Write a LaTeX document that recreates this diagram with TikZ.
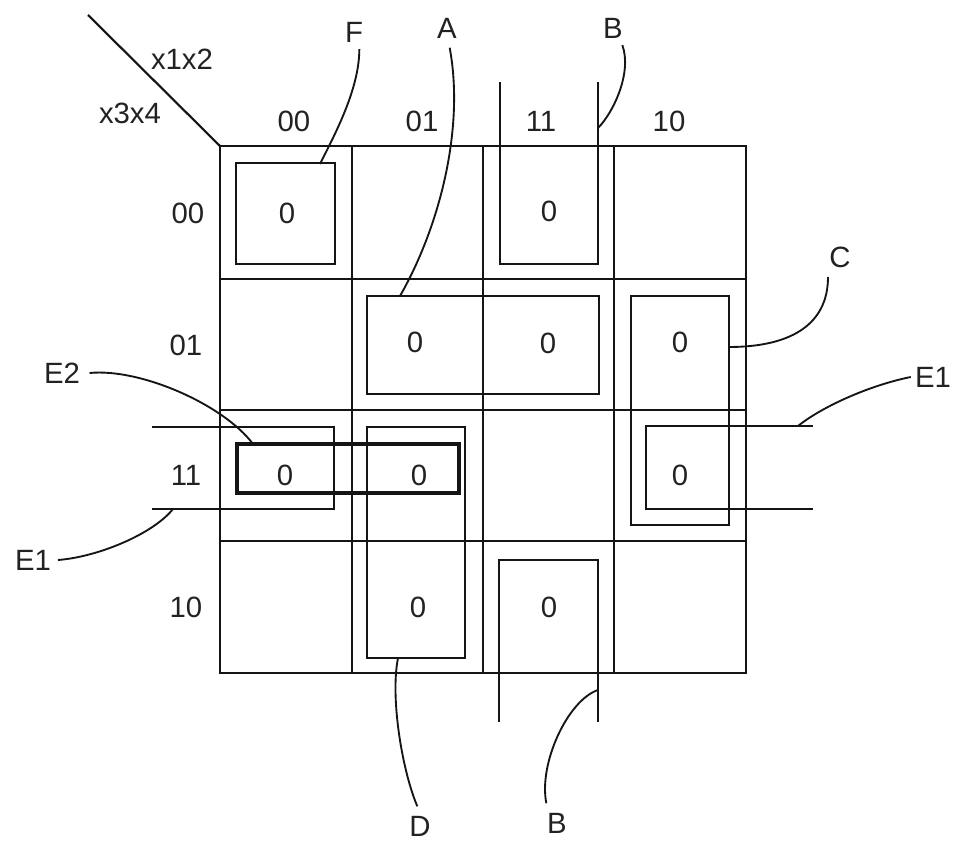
\documentclass[tikz,border=0pt]{standalone}
\usepackage{fontspec}
\setmainfont{Liberation Sans}
\usetikzlibrary{calc}
\definecolor{lineInk}{HTML}{151515}
\definecolor{textInk}{HTML}{222222}

\begin{document}
\begin{tikzpicture}[
  x=0.75pt, y=-0.75pt,
  font=\fontsize{22}{26}\selectfont,
  gridLine/.style={draw=lineInk, line width=1.6pt},
  loopBox/.style={draw=lineInk, line width=1.6pt},
  loopBoxHeavy/.style={draw=lineInk, line width=3pt},
  leader/.style={draw=lineInk, line width=1.4pt},
  cellVal/.style={text=textInk, inner sep=2pt},
  headLabel/.style={text=textInk, inner sep=2pt},
  loopLabel/.style={text=textInk, inner sep=3pt}
]
\useasboundingbox (0,0) rectangle (953,842);

% ===== Map grid =======================================================
\draw[gridLine] (220,146) rectangle (746,673);
\foreach \gx in {352,483,614}
  \draw[gridLine] (\gx,146) -- (\gx,673);
\foreach \gy in {279,410,541}
  \draw[gridLine] (220,\gy) -- (746,\gy);
\draw[gridLine] (88,15) -- (220,146);

% ===== Variable headings ==============================================
\node[headLabel] (varCol) at (182,59)  {x1x2};
\node[headLabel] (varRow) at (130,113) {x3x4};

\node[headLabel] (col00) at (294,121) {00};
\node[headLabel] (col01) at (422,121) {01};
\node[headLabel] (col11) at (541,121) {11};
\node[headLabel] (col10) at (669,121) {10};

\node[headLabel] (row00) at (188,213) {00};
\node[headLabel] (row01) at (186,345) {01};
\node[headLabel] (row11) at (186,475) {11};
\node[headLabel] (row10) at (186,607) {10};

% ===== Cell values =====================================================
\node[cellVal] (m0)  at (287,213) {0};
\node[cellVal] (m12) at (549,211) {0};
\node[cellVal] (m5)  at (415,342) {0};
\node[cellVal] (m13) at (548,343) {0};
\node[cellVal] (m9)  at (680,342) {0};
\node[cellVal] (m3)  at (285,475) {0};
\node[cellVal] (m7)  at (419,475) {0};
\node[cellVal] (m11) at (680,475) {0};
\node[cellVal] (m6)  at (418,607) {0};
\node[cellVal] (m14) at (549,607) {0};

% ===== Loops ===========================================================
\draw[loopBox] (236,163) rectangle (335,264);                    % F
\draw[loopBox] (500,82) -- (500,264) -- (598,264) -- (598,82);   % B top
\draw[loopBox] (367,296) rectangle (599,394);                    % A
\draw[loopBox] (631,296) rectangle (729,525);                    % C
\draw[loopBox] (813,426) -- (646,426) -- (646,509) -- (813,509); % E1 right
\draw[loopBox] (152,427) -- (334,427) -- (334,509) -- (152,509); % E1 left
\draw[loopBox] (367,427) rectangle (465,658);                    % D
\draw[loopBox] (499,722) -- (499,560) -- (598,560) -- (598,722); % B bottom
\draw[loopBoxHeavy] (237,444) rectangle (459,493);               % E2

% ends of the leaders on the loops
\coordinate (endF)   at (320,164);
\coordinate (endA)   at (400,296);
\coordinate (endBt)  at (598,128);
\coordinate (endC)   at (729,347);
\coordinate (endE1r) at (798,426);
\coordinate (endE2)  at (253,444);
\coordinate (endE1l) at (173,509);
\coordinate (endD)   at (398,658);
\coordinate (endBb)  at (598,690);

% ===== Loop labels =====================================================
\node[loopLabel] (labF)   at (354,32)  {F};
\node[loopLabel] (labA)   at (447,28)  {A};
\node[loopLabel] (labBt)  at (613,28)  {B};
\node[loopLabel] (labC)   at (840,257) {C};
\node[loopLabel] (labE1r) at (933,377) {E1};
\node[loopLabel] (labE2)  at (62,373)  {E2};
\node[loopLabel] (labE1l) at (33,560)  {E1};
\node[loopLabel] (labD)   at (420,826) {D};
\node[loopLabel] (labBb)  at (557,823) {B};

% ===== Leaders =========================================================
\draw[leader] ([xshift=4pt,yshift=-2pt]labF.south) .. controls +(0,40) and +(15,-30) .. (endF);
\draw[leader] ([xshift=2pt,yshift=-4pt]labA.south) .. controls +(15,80) and +(40,-70) .. (endA);
\draw[leader] ([xshift=7pt,yshift=-2pt]labBt.south) .. controls +(10,28) and +(15,-15) .. (endBt);
\draw[leader] ([xshift=-9pt,yshift=-4pt]labC.south) .. controls +(0,50) and +(58,0) .. (endC);
\draw[leader] (labE1r.west) .. controls +(-40,8) and +(25,-20) .. (endE1r);
\draw[leader] ([xshift=4pt]labE2.east) .. controls +(50,-5) and +(-30,-40) .. (endE2);
\draw[leader] ([xshift=2pt]labE1l.east) .. controls +(40,-3) and +(-20,25) .. (endE1l);
\draw[leader] ([xshift=-2pt,yshift=4pt]labD.north) .. controls +(-15,-35) and +(-8,40) .. (endD);
\draw[leader] ([xshift=-8pt,yshift=4pt]labBb.north) .. controls +(-8,-40) and +(-30,10) .. (endBb);

\end{tikzpicture}
\end{document}
